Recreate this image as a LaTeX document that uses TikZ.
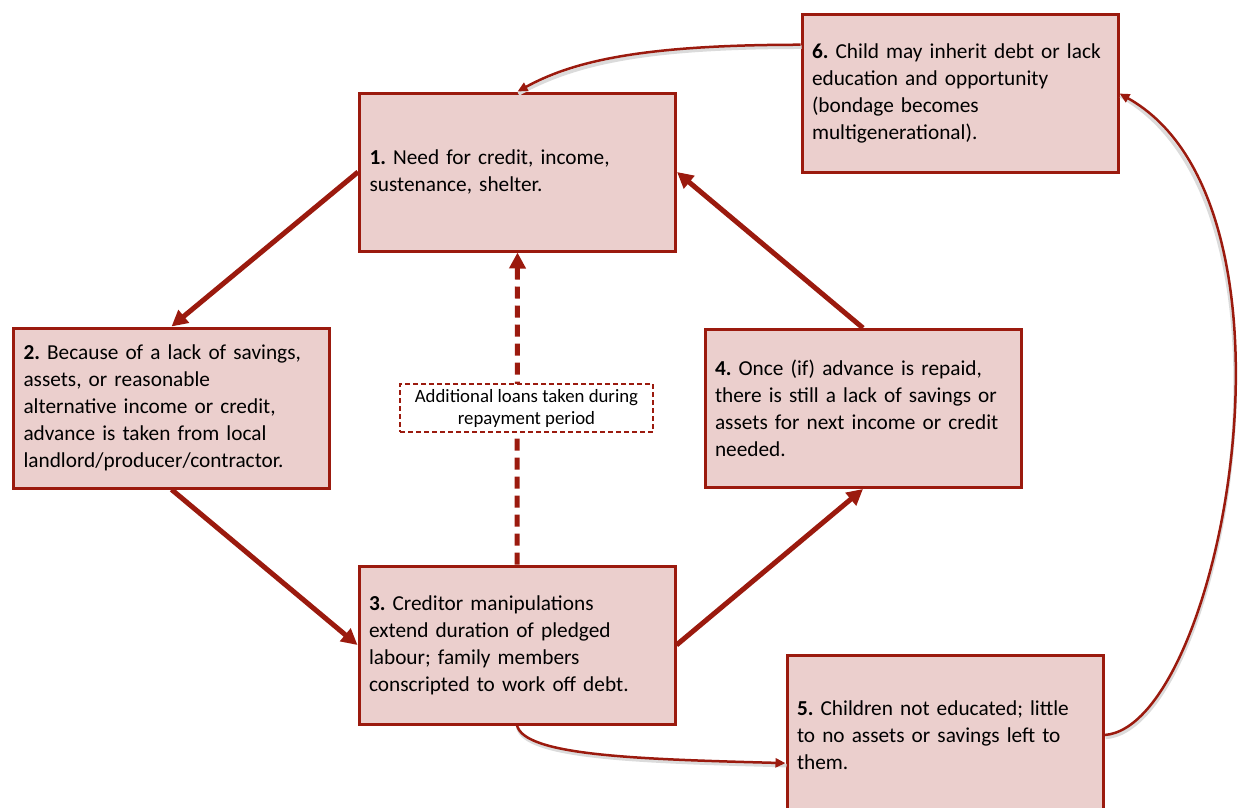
\documentclass[tikz,border=0pt]{standalone}
\usepackage{fontspec}
\setmainfont{Carlito}
\usepackage{tikz}
\usetikzlibrary{arrows.meta,positioning,shapes}
\definecolor{boxred}{RGB}{155,26,14}
\definecolor{boxfill}{RGB}{235,207,205}
\frenchspacing

\begin{document}
\begin{tikzpicture}[x=1pt,y=-1pt]
        \tikzstyle{stage}
	  =[draw=boxred, fill=boxfill, line width=3pt, rectangle,
	  text width=296pt, inner xsep=10pt, minimum height=158pt,
	  align=left, font=\fontsize{21.3}{27}\selectfont]
        \tikzstyle{cycle}
	  =[draw=boxred, line width=5pt, -{Triangle[length=16pt,width=16pt]}]
        \tikzstyle{link}
	  =[draw=boxred, line width=2.5pt, -{Triangle[length=10pt,width=9pt]},
	  preaction={draw=black!14, arrows=-, line width=3.5pt,
	  transform canvas={shift={(1pt,-2.5pt)}}}]
	\tikzstyle{note}
	  =[draw=boxred, fill=white, line width=1.5pt, dash pattern=on 5pt off 3pt,
	  minimum width=253pt, minimum height=48pt, inner sep=2pt,
	  align=center, font=\fontsize{18.8}{22}\selectfont]

	\useasboundingbox (0,0) rectangle (1239,808);

	\node[stage] (need)
	  at (517.5,172) {\textbf{1.} Need for credit, income,\\ sustenance, shelter.};
	\node[stage, minimum height=160pt] (advance)
	  at (171.5,408) {\textbf{2.} Because of a lack of savings,\\ assets, or reasonable\\
	  alternative income or credit,\\ advance is taken from local\\
	  landlord/producer/contractor.};
	\node[stage] (manip)
	  at (517,645) {\textbf{3.} Creditor manipulations\\ extend duration of pledged\\
	  labour; family members\\ conscripted to work off debt.};
	\node[stage] (repaid)
	  at (863,408.5) {\textbf{4.} Once (if) advance is repaid,\\ there is still a lack of savings or\\
	  assets for next income or credit\\ needed.};
	\node[stage, minimum height=160pt] (children)
	  at (945,735) {\textbf{5.} Children not educated; little\\ to no assets or savings left to\\ them.};
	\node[stage] (inherit)
	  at (960,93.5) {\textbf{6.} Child may inherit debt or lack\\ education and opportunity\\
	  (bondage becomes\\ multigenerational).};

	% main cycle
	\draw[cycle] (need.west) -- (advance.north);
	\draw[cycle] (advance.south) -- (manip.west);
	\draw[cycle] (manip.east) -- (repaid.south);
	\draw[cycle] (repaid.north) -- (need.east);
	\draw[cycle, dash pattern=on 12pt off 7pt] (manip.north) -- (need.south);
	\node[note] (loans)
	  at (526.5,408) {Additional loans taken during\\ repayment period};

	% generational loop
	\draw[link] (manip.south) .. controls +(8,30) and +(-150,-4) .. (children.190);
	\draw[link] (children.east) .. controls +(116,-8) and +(200,112) .. (inherit.east);
	\draw[link] (inherit.163) .. controls +(-160,0) and +(55,-30) .. (need.north);
\end{tikzpicture}
\end{document}
